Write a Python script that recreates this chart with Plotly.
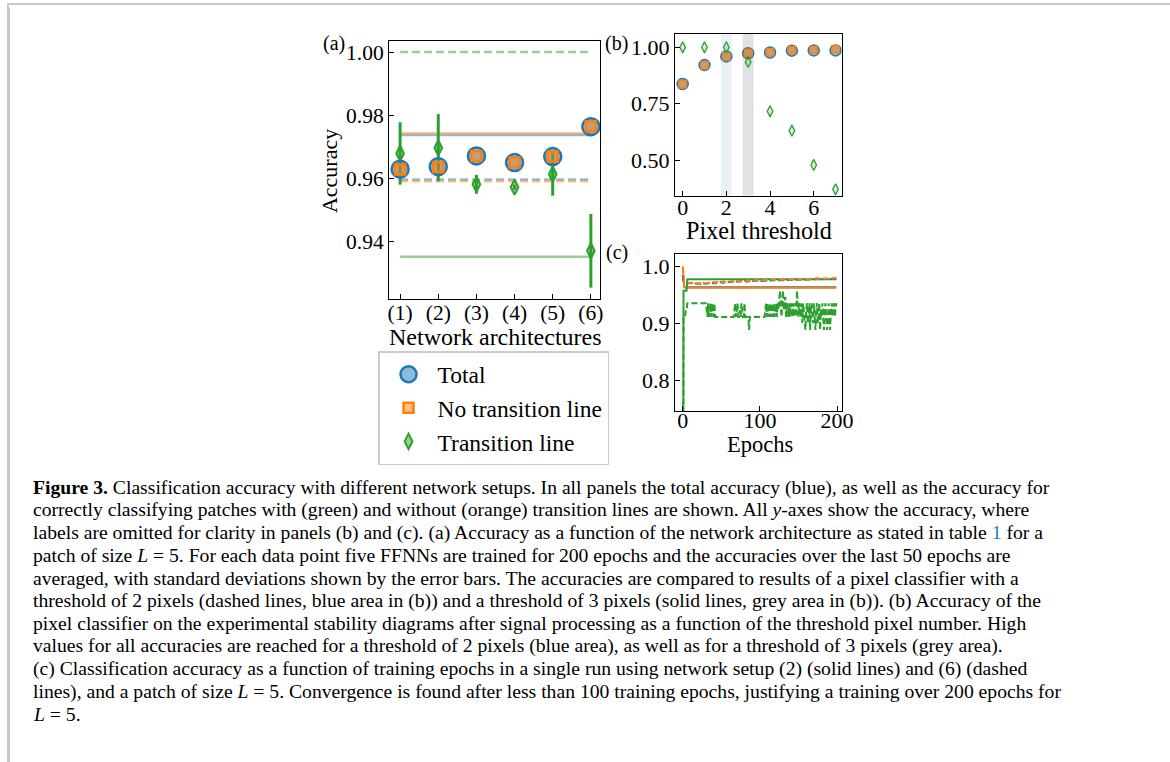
import plotly.graph_objects as go

# ---------------- data ----------------
arch_x = [1, 2, 3, 4, 5, 6]
arch_labels = ["(1)", "(2)", "(3)", "(4)", "(5)", "(6)"]
acc_total = [0.9628, 0.9636, 0.9670, 0.9649, 0.9668, 0.9763]
acc_noline = [0.9627, 0.9635, 0.9670, 0.9649, 0.9668, 0.9764]
acc_line = [0.9678, 0.9696, 0.9580, 0.9571, 0.9612, 0.9369]
acc_line_std = [0.0099, 0.0107, 0.0030, 0.0008, 0.0068, 0.0117]

pix_thr = [0, 1, 2, 3, 4, 5, 6, 7]
pix_total = [0.837, 0.921, 0.9595, 0.9737, 0.977, 0.985, 0.986, 0.986]
pix_noline = [0.836, 0.920, 0.9590, 0.9742, 0.978, 0.988, 0.989, 0.991]
pix_line = [1.000, 1.000, 1.000, 0.935, 0.716, 0.630, 0.478, 0.370]

epochs = list(range(200))

s2_line = [0.0, 0.958, 0.958, 0.958, 0.958, 0.958, 0.978, 0.978, 0.978, 0.978,
           0.978, 0.978, 0.978, 0.978, 0.978, 0.978, 0.978, 0.978, 0.978, 0.978,
           0.978, 0.978, 0.978, 0.978, 0.978, 0.978, 0.978, 0.978, 0.978, 0.978,
           0.978, 0.978, 0.978, 0.978, 0.978, 0.978, 0.978, 0.978, 0.978, 0.978,
           0.978, 0.978, 0.978, 0.978, 0.978, 0.978, 0.978, 0.978, 0.978, 0.978,
           0.978, 0.978, 0.978, 0.978, 0.978, 0.978, 0.978, 0.978, 0.978, 0.978,
           0.978, 0.978, 0.978, 0.978, 0.978, 0.978, 0.978, 0.978, 0.978, 0.978,
           0.978, 0.978, 0.978, 0.978, 0.978, 0.978, 0.978, 0.978, 0.978, 0.978,
           0.978, 0.978, 0.978, 0.978, 0.978, 0.978, 0.978, 0.978, 0.978, 0.978,
           0.978, 0.978, 0.978, 0.978, 0.978, 0.978, 0.978, 0.978, 0.978, 0.978,
           0.978, 0.978, 0.978, 0.978, 0.978, 0.978, 0.978, 0.978, 0.978, 0.978,
           0.978, 0.978, 0.978, 0.978, 0.978, 0.978, 0.978, 0.978, 0.978, 0.978,
           0.978, 0.978, 0.978, 0.978, 0.978, 0.978, 0.978, 0.978, 0.978, 0.978,
           0.978, 0.978, 0.978, 0.978, 0.978, 0.978, 0.978, 0.978, 0.978, 0.978,
           0.978, 0.978, 0.978, 0.978, 0.978, 0.978, 0.978, 0.978, 0.978, 0.978,
           0.978, 0.978, 0.978, 0.978, 0.978, 0.978, 0.978, 0.978, 0.978, 0.978,
           0.978, 0.978, 0.978, 0.978, 0.978, 0.978, 0.978, 0.978, 0.978, 0.978,
           0.978, 0.978, 0.978, 0.978, 0.978, 0.978, 0.978, 0.978, 0.978, 0.978,
           0.978, 0.978, 0.978, 0.978, 0.978, 0.978, 0.978, 0.978, 0.978, 0.978,
           0.978, 0.978, 0.978, 0.978, 0.978, 0.978, 0.978, 0.978, 0.978, 0.978]

s2_noline = [1.000, 0.968, 0.964, 0.963, 0.963, 0.963, 0.963, 0.963, 0.963, 0.963,
             0.963, 0.963, 0.963, 0.963, 0.963, 0.963, 0.963, 0.963, 0.963, 0.963,
             0.963, 0.963, 0.963, 0.963, 0.963, 0.963, 0.963, 0.963, 0.963, 0.963,
             0.963, 0.963, 0.963, 0.963, 0.963, 0.963, 0.963, 0.963, 0.963, 0.963,
             0.963, 0.963, 0.963, 0.963, 0.963, 0.963, 0.963, 0.963, 0.963, 0.963,
             0.963, 0.963, 0.963, 0.963, 0.963, 0.963, 0.963, 0.963, 0.963, 0.963,
             0.963, 0.963, 0.963, 0.963, 0.963, 0.963, 0.963, 0.963, 0.963, 0.963,
             0.963, 0.963, 0.963, 0.963, 0.963, 0.963, 0.963, 0.963, 0.963, 0.963,
             0.963, 0.963, 0.963, 0.963, 0.963, 0.963, 0.963, 0.963, 0.963, 0.963,
             0.963, 0.963, 0.963, 0.963, 0.963, 0.963, 0.963, 0.963, 0.963, 0.963,
             0.963, 0.963, 0.963, 0.963, 0.963, 0.963, 0.963, 0.963, 0.963, 0.963,
             0.963, 0.963, 0.963, 0.963, 0.963, 0.963, 0.963, 0.963, 0.963, 0.963,
             0.963, 0.963, 0.963, 0.963, 0.963, 0.963, 0.963, 0.963, 0.963, 0.963,
             0.963, 0.963, 0.963, 0.963, 0.963, 0.963, 0.963, 0.963, 0.963, 0.963,
             0.963, 0.963, 0.963, 0.963, 0.963, 0.963, 0.963, 0.963, 0.963, 0.963,
             0.963, 0.963, 0.963, 0.963, 0.963, 0.963, 0.963, 0.963, 0.963, 0.963,
             0.963, 0.963, 0.963, 0.963, 0.963, 0.963, 0.963, 0.963, 0.963, 0.963,
             0.963, 0.963, 0.963, 0.963, 0.963, 0.963, 0.963, 0.963, 0.963, 0.963,
             0.963, 0.963, 0.963, 0.963, 0.963, 0.963, 0.963, 0.963, 0.963, 0.963,
             0.963, 0.963, 0.963, 0.963, 0.963, 0.963, 0.963, 0.963, 0.963, 0.963]

s2_total = [0.985, 0.966, 0.965, 0.964, 0.964, 0.964, 0.964, 0.964, 0.964, 0.964,
            0.964, 0.964, 0.964, 0.964, 0.964, 0.964, 0.964, 0.964, 0.964, 0.964,
            0.964, 0.964, 0.964, 0.964, 0.964, 0.964, 0.964, 0.964, 0.964, 0.964,
            0.964, 0.964, 0.964, 0.964, 0.964, 0.964, 0.964, 0.964, 0.964, 0.964,
            0.964, 0.964, 0.964, 0.964, 0.964, 0.964, 0.964, 0.964, 0.964, 0.964,
            0.964, 0.964, 0.964, 0.964, 0.964, 0.964, 0.964, 0.964, 0.964, 0.964,
            0.964, 0.964, 0.964, 0.964, 0.964, 0.964, 0.964, 0.964, 0.964, 0.964,
            0.964, 0.964, 0.964, 0.964, 0.964, 0.964, 0.964, 0.964, 0.964, 0.964,
            0.964, 0.964, 0.964, 0.964, 0.964, 0.964, 0.964, 0.964, 0.964, 0.964,
            0.964, 0.964, 0.964, 0.964, 0.964, 0.964, 0.964, 0.964, 0.964, 0.964,
            0.964, 0.964, 0.964, 0.964, 0.964, 0.964, 0.964, 0.964, 0.964, 0.964,
            0.964, 0.964, 0.964, 0.964, 0.964, 0.964, 0.964, 0.964, 0.964, 0.964,
            0.964, 0.964, 0.964, 0.964, 0.964, 0.964, 0.964, 0.964, 0.964, 0.964,
            0.964, 0.964, 0.964, 0.964, 0.964, 0.964, 0.964, 0.964, 0.964, 0.964,
            0.964, 0.964, 0.964, 0.964, 0.964, 0.964, 0.964, 0.964, 0.964, 0.964,
            0.964, 0.964, 0.964, 0.964, 0.964, 0.964, 0.964, 0.964, 0.964, 0.964,
            0.964, 0.964, 0.964, 0.964, 0.964, 0.964, 0.964, 0.964, 0.964, 0.964,
            0.964, 0.964, 0.964, 0.964, 0.964, 0.964, 0.964, 0.964, 0.964, 0.964,
            0.964, 0.964, 0.964, 0.964, 0.964, 0.964, 0.964, 0.964, 0.964, 0.964,
            0.964, 0.964, 0.964, 0.964, 0.964, 0.964, 0.964, 0.964, 0.964, 0.964]

s6_line = [0.0, 0.912, 0.912, 0.912, 0.924, 0.924, 0.936, 0.936, 0.936, 0.936,
           0.936, 0.936, 0.936, 0.936, 0.936, 0.936, 0.936, 0.936, 0.936, 0.936,
           0.936, 0.936, 0.936, 0.936, 0.936, 0.936, 0.936, 0.936, 0.936, 0.936,
           0.936, 0.924, 0.912, 0.936, 0.912, 0.924, 0.936, 0.912, 0.936, 0.924,
           0.912, 0.936, 0.912, 0.912, 0.912, 0.912, 0.912, 0.912, 0.912, 0.912,
           0.912, 0.912, 0.912, 0.912, 0.912, 0.912, 0.912, 0.912, 0.912, 0.912,
           0.912, 0.912, 0.912, 0.912, 0.912, 0.912, 0.912, 0.924, 0.936, 0.912,
           0.924, 0.936, 0.912, 0.912, 0.924, 0.912, 0.936, 0.924, 0.912, 0.912,
           0.936, 0.912, 0.912, 0.912, 0.912, 0.912, 0.889, 0.912, 0.912, 0.912,
           0.912, 0.912, 0.912, 0.912, 0.912, 0.912, 0.912, 0.912, 0.912, 0.912,
           0.912, 0.912, 0.912, 0.912, 0.912, 0.912, 0.912, 0.924, 0.936, 0.912,
           0.936, 0.924, 0.912, 0.936, 0.912, 0.936, 0.924, 0.912, 0.936, 0.912,
           0.924, 0.936, 0.912, 0.936, 0.924, 0.936, 0.958, 0.936, 0.912, 0.936,
           0.958, 0.924, 0.936, 0.947, 0.912, 0.936, 0.924, 0.912, 0.936, 0.912,
           0.936, 0.924, 0.912, 0.936, 0.912, 0.924, 0.936, 0.912, 0.958, 0.936,
           0.912, 0.936, 0.924, 0.912, 0.936, 0.901, 0.936, 0.924, 0.912, 0.889,
           0.924, 0.936, 0.901, 0.912, 0.936, 0.889, 0.924, 0.936, 0.912, 0.901,
           0.936, 0.912, 0.889, 0.924, 0.936, 0.901, 0.912, 0.936, 0.889, 0.924,
           0.912, 0.936, 0.901, 0.889, 0.924, 0.936, 0.912, 0.889, 0.901, 0.936,
           0.912, 0.889, 0.924, 0.936, 0.912, 0.924, 0.936, 0.912, 0.924, 0.936]

s6_noline = [1.000, 0.976, 0.975, 0.974, 0.974, 0.973, 0.973, 0.972, 0.972, 0.972,
             0.972, 0.971, 0.972, 0.971, 0.971, 0.972, 0.971, 0.971, 0.970, 0.971,
             0.971, 0.970, 0.971, 0.971, 0.970, 0.971, 0.971, 0.972, 0.971, 0.971,
             0.972, 0.971, 0.972, 0.972, 0.971, 0.972, 0.972, 0.973, 0.972, 0.972,
             0.973, 0.972, 0.973, 0.972, 0.973, 0.973, 0.972, 0.973, 0.973, 0.974,
             0.973, 0.973, 0.974, 0.973, 0.974, 0.973, 0.974, 0.974, 0.973, 0.974,
             0.974, 0.973, 0.974, 0.974, 0.975, 0.974, 0.974, 0.975, 0.974, 0.974,
             0.975, 0.974, 0.975, 0.975, 0.974, 0.975, 0.975, 0.974, 0.975, 0.975,
             0.975, 0.976, 0.975, 0.975, 0.976, 0.975, 0.976, 0.975, 0.976, 0.976,
             0.975, 0.976, 0.976, 0.975, 0.976, 0.976, 0.977, 0.976, 0.976, 0.976,
             0.977, 0.976, 0.976, 0.977, 0.976, 0.977, 0.976, 0.977, 0.977, 0.976,
             0.977, 0.977, 0.976, 0.977, 0.977, 0.978, 0.977, 0.977, 0.977, 0.978,
             0.977, 0.977, 0.978, 0.977, 0.978, 0.977, 0.977, 0.978, 0.978, 0.977,
             0.978, 0.977, 0.978, 0.978, 0.977, 0.978, 0.978, 0.978, 0.977, 0.978,
             0.978, 0.978, 0.977, 0.978, 0.978, 0.979, 0.978, 0.978, 0.978, 0.979,
             0.978, 0.978, 0.979, 0.978, 0.978, 0.979, 0.978, 0.979, 0.979, 0.978,
             0.979, 0.978, 0.979, 0.979, 0.978, 0.979, 0.979, 0.979, 0.978, 0.979,
             0.979, 0.979, 0.979, 0.980, 0.979, 0.979, 0.979, 0.980, 0.979, 0.979,
             0.980, 0.979, 0.979, 0.980, 0.979, 0.980, 0.979, 0.980, 0.980, 0.979,
             0.980, 0.979, 0.980, 0.980, 0.979, 0.980, 0.980, 0.979, 0.980, 0.980]

s6_total = [0.985, 0.974, 0.974, 0.973, 0.973, 0.972, 0.972, 0.971, 0.971, 0.971,
            0.971, 0.970, 0.971, 0.970, 0.970, 0.971, 0.970, 0.970, 0.970, 0.970,
            0.970, 0.970, 0.970, 0.970, 0.969, 0.970, 0.970, 0.971, 0.970, 0.970,
            0.971, 0.970, 0.971, 0.971, 0.970, 0.971, 0.971, 0.972, 0.971, 0.971,
            0.972, 0.971, 0.972, 0.971, 0.972, 0.972, 0.971, 0.972, 0.972, 0.973,
            0.972, 0.972, 0.973, 0.972, 0.973, 0.972, 0.973, 0.973, 0.972, 0.973,
            0.973, 0.972, 0.973, 0.973, 0.974, 0.973, 0.973, 0.974, 0.973, 0.973,
            0.974, 0.973, 0.974, 0.974, 0.973, 0.974, 0.974, 0.973, 0.974, 0.974,
            0.974, 0.975, 0.974, 0.974, 0.975, 0.974, 0.975, 0.974, 0.975, 0.975,
            0.974, 0.975, 0.975, 0.974, 0.975, 0.975, 0.976, 0.975, 0.975, 0.975,
            0.976, 0.975, 0.975, 0.976, 0.975, 0.976, 0.975, 0.976, 0.976, 0.975,
            0.976, 0.976, 0.975, 0.976, 0.976, 0.977, 0.976, 0.976, 0.976, 0.977,
            0.976, 0.976, 0.977, 0.976, 0.977, 0.976, 0.977, 0.977, 0.977, 0.976,
            0.977, 0.976, 0.977, 0.977, 0.976, 0.977, 0.977, 0.977, 0.976, 0.977,
            0.977, 0.977, 0.976, 0.977, 0.977, 0.978, 0.977, 0.977, 0.977, 0.978,
            0.977, 0.977, 0.978, 0.977, 0.977, 0.978, 0.977, 0.978, 0.978, 0.977,
            0.978, 0.977, 0.978, 0.978, 0.977, 0.978, 0.978, 0.978, 0.977, 0.978,
            0.978, 0.978, 0.978, 0.979, 0.978, 0.978, 0.978, 0.979, 0.978, 0.978,
            0.979, 0.978, 0.978, 0.979, 0.978, 0.979, 0.978, 0.979, 0.979, 0.978,
            0.979, 0.978, 0.979, 0.979, 0.978, 0.979, 0.979, 0.978, 0.979, 0.979]

caption_lines = [
    "<b>Figure 3.</b> Classification accuracy with different network setups. In all panels the total accuracy (blue), as well as the accuracy for",
    "correctly classifying patches with (green) and without (orange) transition lines are shown. All <i>y</i>-axes show the accuracy, where",
    "labels are omitted for clarity in panels (b) and (c). (a) Accuracy as a function of the network architecture as stated in table <span style='color:#2b7bb9'>1</span> for a",
    "patch of size <i>L</i> = 5. For each data point five FFNNs are trained for 200 epochs and the accuracies over the last 50 epochs are",
    "averaged, with standard deviations shown by the error bars. The accuracies are compared to results of a pixel classifier with a",
    "threshold of 2 pixels (dashed lines, blue area in (b)) and a threshold of 3 pixels (solid lines, grey area in (b)). (b) Accuracy of the",
    "pixel classifier on the experimental stability diagrams after signal processing as a function of the threshold pixel number. High",
    "values for all accuracies are reached for a threshold of 2 pixels (blue area), as well as for a threshold of 3 pixels (grey area).",
    "(c) Classification accuracy as a function of training epochs in a single run using network setup (2) (solid lines) and (6) (dashed",
    "lines), and a patch of size <i>L</i> = 5. Convergence is found after less than 100 training epochs, justifying a training over 200 epochs for",
    "<i>L</i> = 5.",
]

# ---------------- style ----------------
# page body keeps its default 8px margin; the captured page is squeezed slightly in x,
# so target positions are divided by SX to land where the reference has them.
W, H = 1170, 754
OFF = 8
SX = 0.989
FONT = "Liberation Serif"
BLUE, ORANGE, GREEN = "#1f77b4", "#ff7f0e", "#2ca02c"
BLUE_A, ORANGE_A, GREEN_A = "rgba(31,119,180,0.5)", "rgba(255,127,14,0.5)", "rgba(44,160,44,0.5)"


def px(x):
    return (x / SX - OFF) / W


def py(y):
    return 1 - (y - OFF) / H


fig = go.Figure()

# ---- panel (a) reference lines from pixel classifier (thr 2 dashed, thr 3 solid)
x_span = [arch_x[0], arch_x[-1]]
for vals, col in [(pix_line, "rgba(44,160,44,0.5)"), (pix_total, "rgba(31,119,180,0.5)"), (pix_noline, "rgba(255,127,14,0.5)")]:
    fig.add_trace(go.Scatter(x=x_span, y=[vals[2], vals[2]], mode="lines", showlegend=False,
                             line=dict(color=col, width=2.5, dash="8px,4px"), xaxis="x", yaxis="y", hoverinfo="skip"))
    fig.add_trace(go.Scatter(x=x_span, y=[vals[3], vals[3]], mode="lines", showlegend=False,
                             line=dict(color=col, width=2.5), xaxis="x", yaxis="y", hoverinfo="skip"))

# ---- panel (a) points
fig.add_trace(go.Scatter(x=arch_x, y=acc_line, mode="markers", name="Transition line", legendrank=3,
                         error_y=dict(type="data", array=acc_line_std, color=GREEN, thickness=3, width=0),
                         marker=dict(symbol="diamond-tall", size=11, color=GREEN_A, line=dict(color=GREEN, width=2)),
                         xaxis="x", yaxis="y"))
fig.add_trace(go.Scatter(x=arch_x, y=acc_total, mode="markers", name="Total", legendrank=1,
                         marker=dict(symbol="circle", size=17, color=BLUE_A, line=dict(color=BLUE, width=2.5)),
                         xaxis="x", yaxis="y"))
fig.add_trace(go.Scatter(x=arch_x, y=acc_noline, mode="markers", name="No transition line", legendrank=2,
                         marker=dict(symbol="square", size=10, color=ORANGE_A, line=dict(color=ORANGE, width=2.5)),
                         xaxis="x", yaxis="y"))

# ---- panel (b)
fig.add_trace(go.Scatter(x=pix_thr, y=pix_total, mode="markers", showlegend=False,
                         marker=dict(symbol="circle", size=11, color=BLUE_A, line=dict(color=BLUE, width=1.5)),
                         xaxis="x2", yaxis="y2"))
fig.add_trace(go.Scatter(x=pix_thr, y=pix_noline, mode="markers", showlegend=False,
                         marker=dict(symbol="square", size=7, color=ORANGE_A, line=dict(color=ORANGE, width=1.5)),
                         xaxis="x2", yaxis="y2"))
fig.add_trace(go.Scatter(x=pix_thr, y=pix_line, mode="markers", showlegend=False,
                         marker=dict(symbol="diamond-tall", size=8, color="rgba(44,160,44,0.2)", line=dict(color=GREEN, width=1.3)),
                         xaxis="x2", yaxis="y2"))

# ---- panel (c)
for ys, col, dash in [(s2_total, BLUE, "solid"), (s2_noline, ORANGE, "solid"), (s2_line, GREEN, "solid"),
                      (s6_total, BLUE, "6px,3px"), (s6_noline, ORANGE, "6px,3px"), (s6_line, GREEN, "6px,3px")]:
    fig.add_trace(go.Scatter(x=epochs, y=ys, mode="lines", showlegend=False,
                             line=dict(color=col, width=2, dash=dash), xaxis="x3", yaxis="y3"))

axis_common = dict(showgrid=False, zeroline=False, showline=True, linecolor="black", linewidth=1.2,
                   mirror=True, ticks="inside", ticklen=5, tickwidth=1.2, tickcolor="black")

shapes = []
# shaded threshold areas in (b)
for t, col in [(pix_thr[2], "#e9f1f7"), (pix_thr[3], "#e2e2e2")]:
    shapes.append(dict(type="rect", xref="x2", yref="y2 domain", x0=t - 0.25, x1=t + 0.25, y0=0, y1=1,
                       fillcolor=col, line=dict(width=0), layer="below"))
# page frame: left edge and right edge (the top edge lies in the page margin, see post_script)
shapes.append(dict(type="line", xref="paper", yref="paper", x0=0, x1=0, y0=0, y1=1,
                   line=dict(color="#c8c8c8", width=2)))
shapes.append(dict(type="line", xref="paper", yref="paper", x0=px(1163.3), x1=px(1163.3), y0=0, y1=py(3),
                   line=dict(color="#c8c8c8", width=2)))

ann = []


def label(text, x, y, size, angle=0):
    ann.append(dict(text=text, x=px(x), y=py(y), xref="paper", yref="paper", showarrow=False,
                    xanchor="center", yanchor="middle", textangle=angle,
                    font=dict(family=FONT, size=size, color="black")))


label("(a)", 333, 44, 20)
label("(b)", 615, 43, 20)
label("(c)", 616, 252, 20)
label("Accuracy", 329, 171, 22, -90)
label("Network architectures", 494, 337, 24)
label("Pixel threshold", 758, 231, 24.2)
label("Epochs", 759, 444, 22.5)

for i, line in enumerate(caption_lines):
    ann.append(dict(text=line, x=px(30), y=py(487 + i * 22.7), xref="paper", yref="paper", showarrow=False,
                    xanchor="left", yanchor="middle", align="left",
                    font=dict(family=FONT, size=19.65, color="black")))

fig.update_layout(
    width=W, height=H, margin=dict(l=0, r=0, t=0, b=0),
    paper_bgcolor="white", plot_bgcolor="white",
    font=dict(family=FONT, size=21, color="black"),
    xaxis=dict(domain=[px(388), px(599)], range=[0.71, 6.24], tickvals=arch_x, ticktext=arch_labels,
               anchor="y", tickfont=dict(size=21.5), ticklabelstandoff=-6, **axis_common),
    yaxis=dict(domain=[py(299), py(41)], range=[0.9216, 1.0035], tickvals=[0.94, 0.96, 0.98, 1.00],
               ticktext=["0.94", "0.96", "0.98", "1.00"], anchor="x", tickfont=dict(size=21.5), **axis_common),
    xaxis2=dict(domain=[px(674), px(840.7)], range=[-0.35, 7.28], tickvals=[0, 2, 4, 6],
                anchor="y2", tickfont=dict(size=22), ticklabelstandoff=-8, **axis_common),
    yaxis2=dict(domain=[py(195.7), py(34)], range=[0.3416, 1.059], tickvals=[0.5, 0.75, 1.0],
                ticktext=["0.50", "0.75", "1.00"], anchor="x2", tickfont=dict(size=22), **axis_common),
    xaxis3=dict(domain=[px(674), px(840.7)], range=[-10, 206], tickvals=[0, 100, 200],
                anchor="y3", tickfont=dict(size=22), ticklabelstandoff=-10, **axis_common),
    yaxis3=dict(domain=[py(410.7), py(254.3)], range=[0.7474, 1.0218], tickvals=[0.8, 0.9, 1.0],
                ticktext=["0.8", "0.9", "1.0"], anchor="x3", tickfont=dict(size=22), **axis_common),
    legend=dict(x=px(377), y=py(351), xanchor="left", yanchor="top", bordercolor="#cccccc", borderwidth=1.5,
                bgcolor="white", font=dict(family=FONT, size=23.5), itemwidth=48, tracegroupgap=0),
    shapes=shapes, annotations=ann,
)

frame_css = ("linear-gradient(#c8c8c8,#c8c8c8) 7px 3px/2px 3000px no-repeat,"
             "linear-gradient(#c8c8c8,#c8c8c8) 7px 3px/1170px 2px no-repeat,#ffffff")
fig.write_html("out.html", config={"displayModeBar": False},
               post_script="document.documentElement.style.background='" + frame_css + "';")
